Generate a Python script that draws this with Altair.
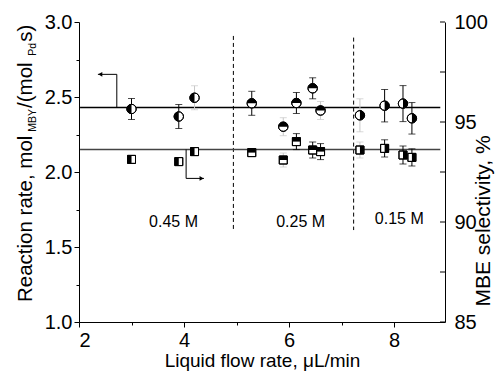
import altair as alt
import pandas as pd

# ---------------- data ----------------
flow = [3.0, 3.9, 4.2, 5.29, 5.89, 6.14, 6.45, 6.60, 7.35, 7.82, 8.17, 8.34]
rate = [2.42, 2.37, 2.495, 2.458, 2.302, 2.460, 2.558, 2.410, 2.378, 2.442, 2.456, 2.358]
rate_err = [0.07, 0.08, 0.08, 0.08, 0.06, 0.07, 0.07, 0.06, 0.11, 0.108, 0.12, 0.105]
rate_err_clear = [True, True, False, True, False, True, True, False, False, True, True, True]
sel = [93.13, 93.02, 93.52, 93.47, 93.10, 94.02, 93.60, 93.52, 93.60, 93.68, 93.35, 93.23]
sel_err = [0, 0, 0, 0, 0.35, 0.40, 0.40, 0.40, 0.40, 0.43, 0.45, 0.43]
sel_err_clear = [False, False, False, False, False, True, True, True, False, True, True, True]
conc = ["0.45 M"] * 3 + ["0.25 M"] * 5 + ["0.15 M"] * 4

mean_rate = 2.43
mean_sel = 93.625
mean_line_x = [2.02, 8.88]

divider_x = [4.94, 7.23]
divider_top = [2.907, 2.896]
divider_bottom = [1.613, 1.613]

region_labels = ["0.45 M", "0.25 M", "0.15 M"]
region_label_x = [3.80, 6.22, 8.10]
region_label_y = [1.665, 1.665, 1.69]

arrow_l_x = [2.72, 2.72, 2.36]
arrow_l_y = [2.43, 2.651, 2.651]
arrow_r_x = [4.04, 4.04, 4.38]
arrow_r_y = [93.625, 92.18, 92.18]

x_ticks = [2, 3, 4, 5, 6, 7, 8]
yl_ticks = [1.0, 1.25, 1.5, 1.75, 2.0, 2.25, 2.5, 2.75, 3.0]
yr_ticks = [85, 87.5, 90, 92.5, 95, 97.5, 100]
yr_major = [85, 90, 95, 100]

# ---------------- styling ----------------
W, H = 366, 300
FONT = "Liberation Sans"
TICK_FS = 20
half_circle = {"0.45 M": "M0,-1A1,1,0,0,0,0,1Z",
               "0.25 M": "M-1,0A1,1,0,0,1,1,0Z",
               "0.15 M": "M0,-1A1,1,0,0,1,0,1Z"}
half_square = {"0.45 M": "M-1,-1H0V1H-1Z",
               "0.25 M": "M-1,-1H1V0H-1Z",
               "0.15 M": "M0,-1H1V1H0Z"}

xs = alt.Scale(domain=[2.0, 8.97], nice=False, zero=False)
ysl = alt.Scale(domain=[1.0, 3.0], nice=False, zero=False)
ysr = alt.Scale(domain=[85, 100], nice=False, zero=False)

x_axis = alt.Axis(
    values=x_ticks, grid=False,
    labelExpr="datum.value % 2 == 0 ? datum.label : ''",
    tickSize={"condition": {"test": "datum.value % 2 == 0", "value": 5}, "value": 3},
    labelFontSize=TICK_FS, labelFont=FONT, labelColor="black", labelPadding=3,
    domainColor="black", tickColor="black",
    title="Liquid flow rate, \u03bcL/min", titleFont=FONT, titleFontSize=19,
    titleFontWeight="normal", titleColor="black",
    titleBaseline="alphabetic", titleY=44,
)
yl_axis = alt.Axis(
    values=yl_ticks, grid=False, title=None,
    labelExpr="abs(datum.value*2 - round(datum.value*2)) < 0.01 ? format(datum.value, '.1f') : ''",
    tickSize={"condition": {"test": "abs(datum.value*2 - round(datum.value*2)) < 0.01", "value": 5}, "value": 3},
    labelFontSize=TICK_FS, labelFont=FONT, labelColor="black", labelPadding=2,
    domainColor="black", tickColor="black",
)
yr_axis = alt.Axis(
    orient="right", values=yr_major, grid=False, ticks=False, tickSize=0, title=None,
    labelFontSize=TICK_FS, labelFont=FONT, labelColor="black", labelPadding=9,
    domainColor="black",
)

X = lambda f: alt.X(f, type="quantitative", scale=xs, axis=x_axis)
YL = lambda f: alt.Y(f, type="quantitative", scale=ysl, axis=yl_axis)
YR = lambda f: alt.Y(f, type="quantitative", scale=ysr, axis=yr_axis)

pts = pd.DataFrame({
    "x": flow, "rate": rate, "rerr": rate_err, "rclear": rate_err_clear,
    "sel": sel, "serr": sel_err, "sclear": sel_err_clear, "conc": conc,
})
pts["rlo"] = pts["rate"] - pts["rerr"]
pts["rhi"] = pts["rate"] + pts["rerr"]
pts["slo"] = pts["sel"] - pts["serr"]
pts["shi"] = pts["sel"] + pts["serr"]
pts["hc"] = pts["conc"].map(half_circle)
pts["hs"] = pts["conc"].map(half_square)
sp = pts[pts["serr"] > 0]

# ---------------- left-axis layers ----------------
mean_l = alt.Chart(pd.DataFrame({"x": mean_line_x, "y": [mean_rate] * 2})).mark_line(
    color="black", strokeWidth=1.3).encode(x=X("x"), y=YL("y"))

div = alt.Chart(pd.DataFrame({"x": divider_x, "y": divider_top, "y2": divider_bottom})).mark_rule(
    color="black", strokeWidth=1, strokeDash=[4, 3]).encode(x=X("x"), y=YL("y"), y2="y2")

arr_l = alt.Chart(pd.DataFrame({"x": arrow_l_x, "y": arrow_l_y, "i": [0, 1, 2]})).mark_line(
    color="black", strokeWidth=1).encode(x=X("x"), y=YL("y"), order="i")
head_l = alt.Chart(pd.DataFrame({"x": [arrow_l_x[-1] + 0.045], "y": [arrow_l_y[-1]]})).mark_point(
    shape="triangle-left", filled=True, color="black", size=22, opacity=1).encode(x=X("x"), y=YL("y"))

reg = alt.Chart(pd.DataFrame({"x": region_label_x, "y": region_label_y, "t": region_labels})).mark_text(
    font=FONT, fontSize=16, color="black", baseline="middle", align="center").encode(
    x=X("x"), y=YL("y"), text="t")

rcol = alt.condition("datum.rclear", alt.value("black"), alt.value("#c8c8c8"))
r_bar = alt.Chart(pts).mark_rule(strokeWidth=1).encode(x=X("x"), y=YL("rlo"), y2="rhi", color=rcol)
r_lo = alt.Chart(pts).mark_tick(orient="horizontal", size=7, thickness=1).encode(x=X("x"), y=YL("rlo"), color=rcol)
r_hi = alt.Chart(pts).mark_tick(orient="horizontal", size=7, thickness=1).encode(x=X("x"), y=YL("rhi"), color=rcol)

c_base = alt.Chart(pts).mark_point(shape="circle", filled=True, fill="white", stroke="black",
                                    strokeWidth=1, size=88, opacity=1).encode(x=X("x"), y=YL("rate"))
c_half = alt.Chart(pts).mark_point(filled=True, fill="black", strokeWidth=0, size=88, opacity=1).encode(
    x=X("x"), y=YL("rate"), shape=alt.Shape("hc:N", scale=None))
c_ring = alt.Chart(pts).mark_point(shape="circle", filled=False, stroke="black",
                                    strokeWidth=1, size=88, opacity=1).encode(x=X("x"), y=YL("rate"))

# composed left title with subscripts
AW = {'R': 722, 'e': 556, 'a': 556, 'c': 500, 't': 278, 'i': 222, 'o': 556, 'n': 556, ' ': 278,
      'r': 333, ',': 278, 'm': 833, 'l': 222, 'M': 833, 'B': 667, 'Y': 667, '/': 278, '(': 333,
      ')': 333, 'P': 667, 'd': 556, 's': 500}
FS, fs = 20.5, 10.5
segments = [("Reaction rate, mol", FS, False, 4), ("MBY", fs, True, 1),
            (" /(mol", FS, False, 1), ("Pd", fs, True, 1), ("s)", FS, False, 0)]
title_layers = []
cur = 280.0
for text, size, sub, gap in segments:
    title_layers.append(
        alt.Chart(pd.DataFrame({"t": [text]})).mark_text(
            font=FONT, fontSize=size, color="black", angle=270, align="left", baseline="alphabetic",
        ).encode(x=alt.value(-43 if sub else -47), y=alt.value(cur), text="t")
    )
    cur -= sum(AW[ch] for ch in text) / 1000 * size + gap

right_title = alt.Chart(pd.DataFrame({"t": ["MBE selectivity, %"]})).mark_text(
    font=FONT, fontSize=21, color="black", angle=270, align="center", baseline="alphabetic",
).encode(x=alt.value(411), y=alt.value(199), text="t")

left = alt.layer(mean_l, div, arr_l, head_l, reg, r_bar, r_lo, r_hi, c_base, c_half, c_ring,
                 *title_layers, right_title)

# ---------------- right-axis layers ----------------
mean_r = alt.Chart(pd.DataFrame({"x": mean_line_x, "y": [mean_sel] * 2})).mark_line(
    color="#444444", strokeWidth=1.6).encode(x=X("x"), y=YR("y"))

arr_r = alt.Chart(pd.DataFrame({"x": arrow_r_x, "y": arrow_r_y, "i": [0, 1, 2]})).mark_line(
    color="black", strokeWidth=1).encode(x=X("x"), y=YR("y"), order="i")
head_r = alt.Chart(pd.DataFrame({"x": [arrow_r_x[-1] - 0.045], "y": [arrow_r_y[-1]]})).mark_point(
    shape="triangle-right", filled=True, color="black", size=22, opacity=1).encode(x=X("x"), y=YR("y"))

scol = alt.condition("datum.sclear", alt.value("black"), alt.value("#c8c8c8"))
s_bar = alt.Chart(sp).mark_rule(strokeWidth=1).encode(x=X("x"), y=YR("slo"), y2="shi", color=scol)
s_lo = alt.Chart(sp).mark_tick(orient="horizontal", size=7, thickness=1).encode(x=X("x"), y=YR("slo"), color=scol)
s_hi = alt.Chart(sp).mark_tick(orient="horizontal", size=7, thickness=1).encode(x=X("x"), y=YR("shi"), color=scol)

s_base = alt.Chart(pts).mark_point(shape="square", filled=True, fill="white", stroke="black",
                                    strokeWidth=1, size=64, opacity=1).encode(x=X("x"), y=YR("sel"))
s_half = alt.Chart(pts).mark_point(filled=True, fill="black", strokeWidth=0, size=64, opacity=1).encode(
    x=X("x"), y=YR("sel"), shape=alt.Shape("hs:N", scale=None))
s_ring = alt.Chart(pts).mark_point(shape="square", filled=False, stroke="black",
                                    strokeWidth=1, size=64, opacity=1).encode(x=X("x"), y=YR("sel"))

rticks = alt.Chart(pd.DataFrame({"v": yr_ticks})).mark_rule(color="black", strokeWidth=1).encode(
    y=YR("v"), x=alt.value(W), x2=alt.value(W - 5))

right = alt.layer(mean_r, arr_r, head_r, s_bar, s_lo, s_hi, s_base, s_half, s_ring, rticks)

chart = alt.layer(left, right).resolve_scale(y="independent").properties(
    width=W, height=H,
    padding={"left": 71, "top": 14, "right": 51, "bottom": 49},
    autosize=alt.AutoSizeParams(type="none"),
    background="white",
).configure_view(stroke=None).configure_axis(domainWidth=1, tickWidth=1)

chart.save("out.html", embed_options={"renderer": "svg", "actions": False})
